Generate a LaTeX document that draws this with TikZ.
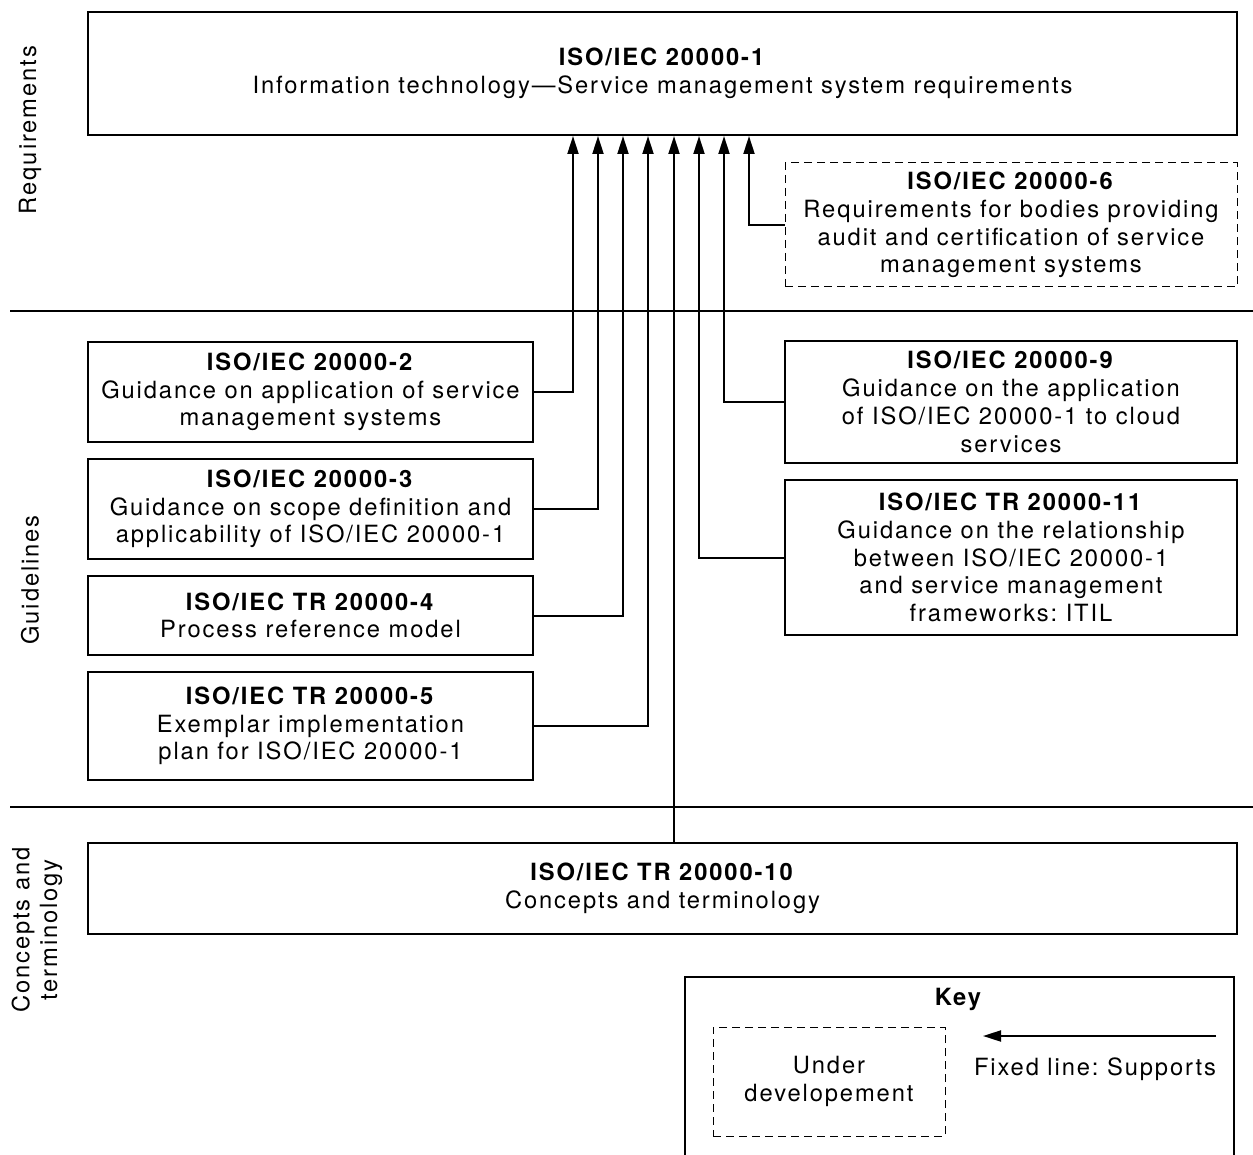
\documentclass[tikz,border=0pt]{standalone}
\usepackage{fontspec}
\setmainfont{TeX Gyre Heros}[LetterSpace=8]
\usetikzlibrary{arrows.meta}
\frenchspacing

\begin{document}
\begin{tikzpicture}[x=0.2mm,y=-0.2mm,
  txt/.style={font=\fontsize{13.5}{15.8}\selectfont,align=center},
  box/.style={txt,draw,line width=0.4mm,inner sep=0pt},
  newbox/.style={box,line width=0.2mm,dash pattern=on 1.6mm off 1mm},
  supports/.style={-{Triangle[length=3.6mm,width=2.2mm]},line width=0.4mm},
  band/.style={txt,rotate=90}]
\useasboundingbox (0,0) rectangle (1253,1155);
% the standards
\node[box,minimum width=229.8mm,minimum height=24.6mm] (iso1) at (662.5,73.5)
  {\textbf{ISO/IEC 20000-1}\\Information technology—Service management system requirements};
\node[newbox,minimum width=90.4mm,minimum height=24.8mm] (iso6) at (1011,225)
  {\textbf{ISO/IEC 20000-6}\\Requirements for bodies providing\\audit and certification of service\\management systems};
\node[box,minimum width=89mm,minimum height=20mm] (iso2) at (310.5,392)
  {\textbf{ISO/IEC 20000-2}\\Guidance on application of service\\management systems};
\node[box,minimum width=89mm,minimum height=20mm] (iso3) at (310.5,509)
  {\textbf{ISO/IEC 20000-3}\\Guidance on scope definition and\\applicability of ISO/IEC 20000-1};
\node[box,minimum width=89mm,minimum height=15.8mm] (iso4) at (310.5,615.5)
  {\textbf{ISO/IEC TR 20000-4}\\Process reference model};
\node[box,minimum width=89mm,minimum height=21.6mm] (iso5) at (310.5,726)
  {\textbf{ISO/IEC TR 20000-5}\\Exemplar implementation\\plan for ISO/IEC 20000-1};
\node[box,minimum width=90.4mm,minimum height=24.4mm] (iso9) at (1011,402)
  {\textbf{ISO/IEC 20000-9}\\Guidance on the application\\of ISO/IEC 20000-1 to cloud\\services};
\node[box,minimum width=90.4mm,minimum height=31mm] (iso11) at (1011,557.5)
  {\textbf{ISO/IEC TR 20000-11}\\Guidance on the relationship\\between ISO/IEC 20000-1\\and service management\\frameworks: ITIL};
\node[box,minimum width=229.8mm,minimum height=18.2mm] (iso10) at (662.5,888.5)
  {\textbf{ISO/IEC TR 20000-10}\\Concepts and terminology};
% supports
\foreach \src/\dx in {iso2/97.2,iso3/102.2,iso4/107.2,iso5/112.2}
  \draw[supports] (\src.east) -| ([xshift=\dx mm]iso1.south west);
\foreach \src/\dx in {iso11/122.4,iso9/127.4,iso6/132.4}
  \draw[supports] (\src.west) -| ([xshift=\dx mm]iso1.south west);
\draw[supports] ([xshift=117.4mm]iso1.south west |- iso10.north) -- ([xshift=117.4mm]iso1.south west);
% bands
\draw[line width=0.4mm] (10,311) -- (1253,311);
\draw[line width=0.4mm] (10,807) -- (1253,807);
\node[band] (req) at (30,130) {Requirements};
\node[band] (guide) at (30,580) {Guidelines};
\node[band] (conc) at (37,930) {Concepts and\\terminology};
% key
\draw[line width=0.3mm] (685,1155) |- (1234,977) -- (1234,1155);
\node[txt,font=\fontsize{13.5}{15.8}\selectfont\bfseries] (key) at (958,999) {Key};
\node[newbox,minimum width=46.4mm,minimum height=21.8mm] (keynew) at (829,1081.5) {Under\\developement};
\coordinate (kfrom) at (1216,1036);
\coordinate (kto) at (983,1036);
\draw[supports] (kfrom) -- (kto);
\node[txt] (keysup) at (1095,1069) {Fixed line: Supports};
\end{tikzpicture}
\end{document}
